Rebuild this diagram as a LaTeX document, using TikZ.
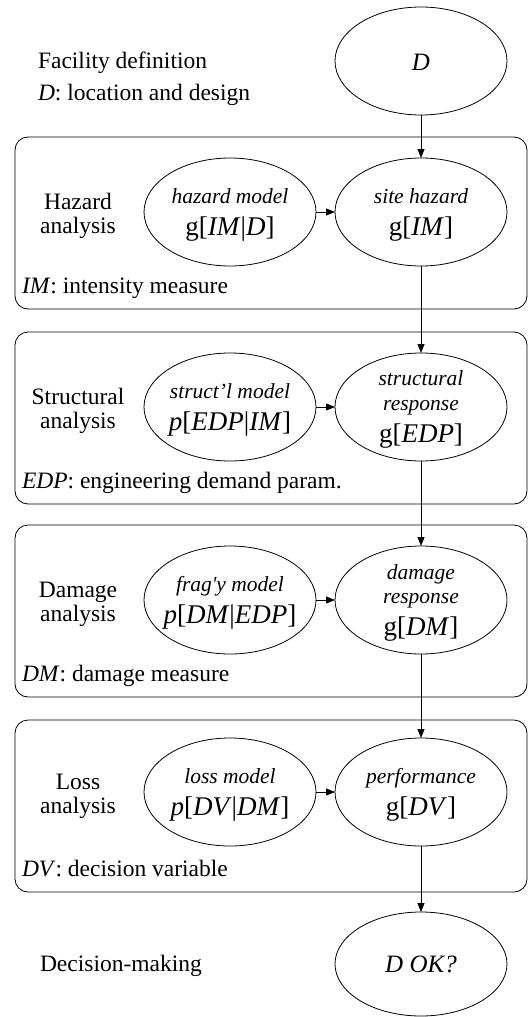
\documentclass[tikz,border=0pt]{standalone}
\usepackage{fontspec}
\setmainfont{Liberation Serif}[Ligatures=TeXOff]
\usetikzlibrary{arrows.meta,shapes.geometric}
\begin{document}
\begin{tikzpicture}[x=1pt,y=-1pt,
  every node/.style={inner sep=0pt, outer sep=0pt},
  ell/.style={draw, ellipse, minimum width=172pt, minimum height=108pt, line width=0.8pt},
  panel/.style={draw, rectangle, rounded corners=13pt, minimum width=512pt, minimum height=172pt, line width=0.8pt},
  lbl/.style={font=\fontsize{23.5}{26}\selectfont, anchor=base},
  note/.style={font=\fontsize{23.5}{26}\selectfont, anchor=base west},
  itx/.style={font=\fontsize{21.5}{24}\selectfont\itshape, anchor=base},
  mth/.style={font=\fontsize{27}{30}\selectfont, anchor=base},
  flow/.style={-{Triangle[length=9pt,width=7pt]}, line width=0.8pt},
]
\useasboundingbox (0,0) rectangle (528,1017);

% panels
\node[panel] (p1) at (271,223) {};
\node[panel] (p2) at (271,418) {};
\node[panel] (p3) at (271,611) {};
\node[panel] (p4) at (271,806) {};

% top
\node[note] (fd1) at (38,68) {Facility definition};
\node[note] (fd2) at (38,100) {\textit{D}: location and design};
\node[ell] (D) at (421,61) {};
\node[mth, font=\fontsize{25}{28}\selectfont\itshape] (Dt) at (421,70) {D};

% box 1
\node[lbl] (h1) at (78,209) {Hazard};
\node[lbl] (h2) at (78,233) {analysis};
\node[ell] (hm) at (230,212) {};
\node[itx] (hmt) at (230,203) {hazard model};
\node[mth] (hmm) at (230,235) {g[\textit{IM}|\textit{D}]};
\node[ell] (sh) at (421,212) {};
\node[itx] (sht) at (421,203) {site hazard};
\node[mth] (shm) at (421,235) {g[\textit{IM}]};
\node[note] (n1) at (22,293) {\textit{IM}: intensity measure};

% box 2
\node[lbl] (s1) at (78,404) {Structural};
\node[lbl] (s2) at (78,428) {analysis};
\node[ell] (sm) at (230,407) {};
\node[itx] (smt) at (230,398) {struct’l model};
\node[mth] (smm) at (230,430) {\textit{p}[\textit{EDP}|\textit{IM}]};
\node[ell] (sr) at (421,407) {};
\node[itx] (srt1) at (421,385) {structural};
\node[itx] (srt2) at (421,410) {response};
\node[mth] (srm) at (421,442) {g[\textit{EDP}]};
\node[note] (n2) at (22,488) {\textit{EDP}: engineering demand param.};

% box 3
\node[lbl] (d1) at (78,597) {Damage};
\node[lbl] (d2) at (78,621) {analysis};
\node[ell] (fm) at (230,600) {};
\node[itx] (fmt) at (230,591) {frag'y model};
\node[mth] (fmm) at (230,623) {\textit{p}[\textit{DM}|\textit{EDP}]};
\node[ell] (dr) at (421,600) {};
\node[itx] (drt1) at (421,579) {damage};
\node[itx] (drt2) at (421,603) {response};
\node[mth] (drm) at (421,635) {g[\textit{DM}]};
\node[note] (n3) at (22,681) {\textit{DM}: damage measure};

% box 4
\node[lbl] (l1) at (78,789) {Loss};
\node[lbl] (l2) at (78,813) {analysis};
\node[ell] (lm) at (230,792) {};
\node[itx] (lmt) at (230,783) {loss model};
\node[mth] (lmm) at (230,815) {\textit{p}[\textit{DV}|\textit{DM}]};
\node[ell] (pf) at (421,792) {};
\node[itx] (pft) at (421,783) {performance};
\node[mth] (pfm) at (421,815) {g[\textit{DV}]};
\node[note] (n4) at (22,876) {\textit{DV}: decision variable};

% bottom
\node[note] (dm) at (40,971) {Decision-making};
\node[ell, minimum height=104pt] (ok) at (421,964) {};
\node[mth, font=\fontsize{25}{28}\selectfont\itshape] (okt) at (421,972) {D OK?};

% connectors
\draw[flow] (D) -- (sh);
\draw[flow] (hm) -- (sh);
\draw[flow] (sh) -- (sr);
\draw[flow] (sm) -- (sr);
\draw[flow] (sr) -- (dr);
\draw[flow] (fm) -- (dr);
\draw[flow] (dr) -- (pf);
\draw[flow] (lm) -- (pf);
\draw[flow] (pf) -- (ok);
\end{tikzpicture}
\end{document}
